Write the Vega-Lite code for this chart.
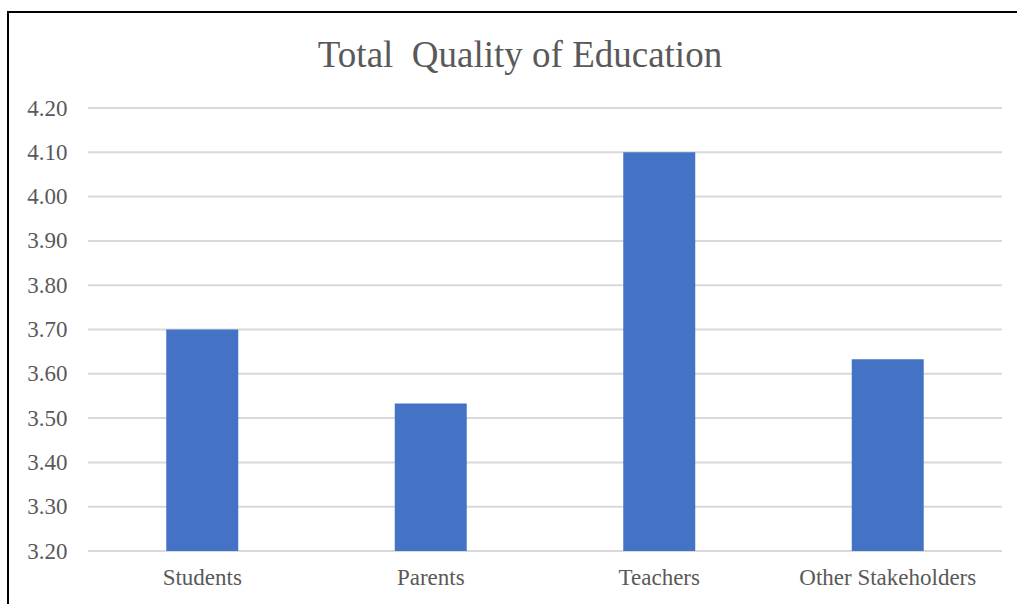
{
  "$schema": "https://vega.github.io/schema/vega-lite/v6.json",
  "width": 1016,
  "height": 596,
  "autosize": {"type": "none"},
  "padding": {"left": 8, "top": 12, "right": 0, "bottom": 0},
  "background": "white",
  "title": {
    "text": "Total\u00a0 Quality of Education",
    "font": "Liberation Serif",
    "fontSize": 37,
    "fontWeight": "normal",
    "color": "#595959",
    "anchor": "middle",
    "baseline": "alphabetic",
    "offset": -55,
    "dy": 37,
    "dx": 4
  },
  "config": {"view": {"stroke": "black", "strokeWidth": 2}},
  "layer": [
    {
      "data": {"values": [
        {"v": 3.2}, {"v": 3.3}, {"v": 3.4}, {"v": 3.5}, {"v": 3.6}, {"v": 3.7},
        {"v": 3.8}, {"v": 3.9}, {"v": 4.0}, {"v": 4.1}, {"v": 4.2}
      ]},
      "mark": {"type": "rule", "color": "#D9D9D9", "strokeWidth": 2},
      "encoding": {
        "y": {
          "field": "v",
          "type": "quantitative",
          "scale": {"domain": [3.2, 4.2], "range": [539, 96]},
          "axis": {
            "orient": "left",
            "offset": -80,
            "domain": false,
            "ticks": false,
            "tickSize": 0,
            "grid": false,
            "title": null,
            "values": [3.2, 3.3, 3.4, 3.5, 3.6, 3.7, 3.8, 3.9, 4.0, 4.1, 4.2],
            "format": ".2f",
            "labelFont": "Liberation Serif",
            "labelFontSize": 23,
            "labelColor": "#595959",
            "labelPadding": 21
          }
        },
        "x": {"datum": 0, "type": "quantitative", "scale": {"domain": [0, 1], "range": [80, 994]}, "axis": null},
        "x2": {"datum": 1}
      }
    },
    {
      "data": {"values": [
        {"group": "Students", "value": 3.70},
        {"group": "Parents", "value": 3.533},
        {"group": "Teachers", "value": 4.10},
        {"group": "Other Stakeholders", "value": 3.633}
      ]},
      "mark": {"type": "bar", "color": "#4472C4"},
      "encoding": {
        "x": {
          "field": "group",
          "type": "nominal",
          "sort": null,
          "scale": {"range": [80, 994], "paddingInner": 0.685, "paddingOuter": 0.3425},
          "axis": {
            "orient": "bottom",
            "offset": -57,
            "domain": false,
            "ticks": false,
            "tickSize": 0,
            "grid": false,
            "title": null,
            "labelAngle": 0,
            "labelFont": "Liberation Serif",
            "labelFontSize": 23,
            "labelColor": "#595959",
            "labelPadding": 15
          }
        },
        "y": {"field": "value", "type": "quantitative"},
        "y2": {"datum": 3.2}
      }
    }
  ],
  "resolve": {"scale": {"x": "independent"}}
}
